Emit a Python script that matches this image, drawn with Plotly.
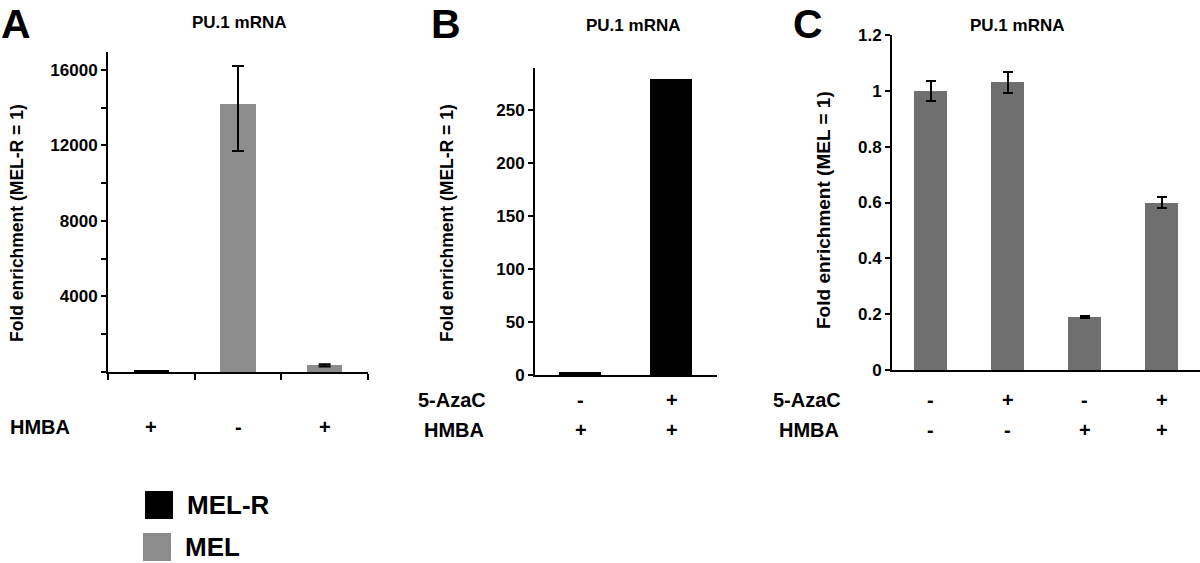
import plotly.graph_objects as go

W, H = 1200, 563

# ---------------- data ----------------
# Panel A
a_groups = ["MEL-R", "MEL", "MEL"]
a_hmba = ["+", "-", "+"]
a_values = [1, 14180, 350]
a_err_plus = [0, 2030, 60]
a_err_minus = [0, 2470, 60]
a_yticks = [0, 2000, 4000, 6000, 8000, 10000, 12000, 14000, 16000]
a_yticktext = ["", "", "4000", "", "8000", "", "12000", "", "16000"]

# Panel B
b_aza = ["-", "+"]
b_hmba = ["+", "+"]
b_values = [1, 278]
b_yticks = [0, 50, 100, 150, 200, 250]

# Panel C
c_aza = ["-", "+", "-", "+"]
c_hmba = ["-", "-", "+", "+"]
c_values = [1.00, 1.03, 0.19, 0.60]
c_err = [0.035, 0.036, 0.005, 0.02]
c_yticks = [0, 0.2, 0.4, 0.6, 0.8, 1.0, 1.2]
c_yticktext = ["0", "0.2", "0.4", "0.6", "0.8", "1", "1.2"]

legend_labels = ["MEL-R", "MEL"]

# ---------------- style ----------------
FONT = "Liberation Sans, Arial, Helvetica, sans-serif"
BLACK = "#000000"
GREY_A = "#8c8c8c"
GREY_C = "#6f6f6f"
color_map = {"MEL-R": BLACK, "MEL": GREY_A}


def px(x):
    return x / W


def py(y):
    return 1 - y / H


fig = go.Figure()

# Panel A bars
fig.add_trace(go.Bar(
    x=list(range(len(a_values))), y=a_values, width=0.41,
    marker=dict(color=[color_map[g] for g in a_groups],
                line=dict(color=BLACK, width=[4 if g == "MEL-R" else 0 for g in a_groups])),
    error_y=dict(type="data", array=a_err_plus, arrayminus=a_err_minus, symmetric=False,
                 color=BLACK, thickness=2, width=6),
    xaxis="x", yaxis="y", showlegend=False))

# Panel B bars
fig.add_trace(go.Bar(
    x=list(range(len(b_values))), y=b_values, width=0.42,
    marker=dict(color=BLACK, line=dict(color=BLACK, width=3)),
    xaxis="x2", yaxis="y2", showlegend=False))

# Panel C bars
fig.add_trace(go.Bar(
    x=list(range(len(c_values))), y=c_values, width=0.42,
    marker=dict(color=GREY_C, line=dict(width=0)),
    error_y=dict(type="data", array=c_err, color=BLACK, thickness=2, width=5),
    xaxis="x3", yaxis="y3", showlegend=False))

tickfont = dict(family=FONT, size=17, color=BLACK, weight="bold")
axis_common = dict(showgrid=False, zeroline=False, showline=True, linecolor=BLACK,
                   linewidth=2, fixedrange=True)

fig.update_layout(
    width=W, height=H, margin=dict(l=0, r=0, t=0, b=0, autoexpand=False),
    paper_bgcolor="white", plot_bgcolor="white", bargap=0,
    font=dict(family=FONT, color=BLACK),
    xaxis=dict(domain=[px(108), px(368)], range=[-0.5, 2.5], anchor="y",
               tickvals=[-0.5, 0.5, 1.5, 2.5], ticks="outside", ticklen=6, tickwidth=2,
               tickcolor=BLACK, showticklabels=False, **axis_common),
    yaxis=dict(domain=[py(372), py(52)], range=[0, 16950], anchor="x",
               tickvals=a_yticks, ticktext=a_yticktext, ticks="outside", ticklen=5,
               tickwidth=1.5, tickcolor=BLACK, tickfont=tickfont, **axis_common),
    xaxis2=dict(domain=[px(535), px(717)], range=[-0.5, 1.5], anchor="y2",
                showticklabels=False, ticks="", **axis_common),
    yaxis2=dict(domain=[py(375), py(68)], range=[0, 290], anchor="x2",
                tickvals=b_yticks, ticks="outside", ticklen=5, tickwidth=1.5,
                tickcolor=BLACK, tickfont=tickfont, **axis_common),
    xaxis3=dict(domain=[px(892), 1.0], range=[-0.5, 3.5], anchor="y3",
                showticklabels=False, ticks="", **axis_common),
    yaxis3=dict(domain=[py(370), py(35)], range=[0, 1.2], anchor="x3",
                tickvals=c_yticks, ticktext=c_yticktext, ticks="outside", ticklen=5,
                tickwidth=1.5, tickcolor=BLACK, tickfont=tickfont, **axis_common),
)

ann = []


def text(x, y, s, size, xanchor="center", xref="paper", angle=0, yanchor="middle", pad=1):
    ann.append(dict(x=x, y=y, xref=xref, yref="paper", text=s, showarrow=False,
                    xanchor=xanchor, yanchor=yanchor, textangle=angle, borderpad=pad,
                    font=dict(family=FONT, size=size, color=BLACK, weight="bold")))


# panel letters
text(px(0), py(0), "A", 41, xanchor="left", yanchor="top", pad=0)
text(px(430), py(0), "B", 41, xanchor="left", yanchor="top", pad=0)
text(px(792), py(0), "C", 41, xanchor="left", yanchor="top", pad=0)

# titles
text(px(239), py(23), "PU.1 mRNA", 17)
text(px(633), py(25), "PU.1 mRNA", 17)
text(px(1017), py(26), "PU.1 mRNA", 17)

# y-axis titles
text(px(17), py(223), "Fold enrichment (MEL-R = 1)", 17.5, angle=-90)
text(px(447), py(223), "Fold enrichment (MEL-R = 1)", 17.5, angle=-90)
text(px(823), py(210), "Fold enrichment (MEL = 1)", 19, angle=-90)

# row labels
text(px(8), py(427), "HMBA", 20, xanchor="left")
for i, s in enumerate(a_hmba):
    text(i, py(427), s, 20, xref="x")

text(px(488), py(400), "5-AzaC", 20, xanchor="right")
text(px(486), py(430), "HMBA", 20, xanchor="right")
for i, s in enumerate(b_aza):
    text(i, py(400), s, 20, xref="x2")
for i, s in enumerate(b_hmba):
    text(i, py(430), s, 20, xref="x2")

text(px(843), py(400), "5-AzaC", 20, xanchor="right")
text(px(841), py(430), "HMBA", 20, xanchor="right")
for i, s in enumerate(c_aza):
    text(i, py(400), s, 20, xref="x3")
for i, s in enumerate(c_hmba):
    text(i, py(430), s, 20, xref="x3")

# legend (custom swatches)
shapes = []
leg_rows = [(491, 519, 145), (533, 561, 143)]
for (y0, y1, x0), lab in zip(leg_rows, legend_labels):
    shapes.append(dict(type="rect", xref="paper", yref="paper",
                       x0=px(x0), x1=px(x0 + 28), y0=py(y1), y1=py(y0),
                       fillcolor=color_map[lab], line=dict(width=0)))
    text(px(x0 + 40), py((y0 + y1) / 2), lab, 26, xanchor="left")

fig.update_layout(annotations=ann, shapes=shapes)

fig.write_html(
    "out.html",
    config={"displayModeBar": False},
    post_script="document.body.style.margin='0px';document.body.style.overflow='hidden';",
)
